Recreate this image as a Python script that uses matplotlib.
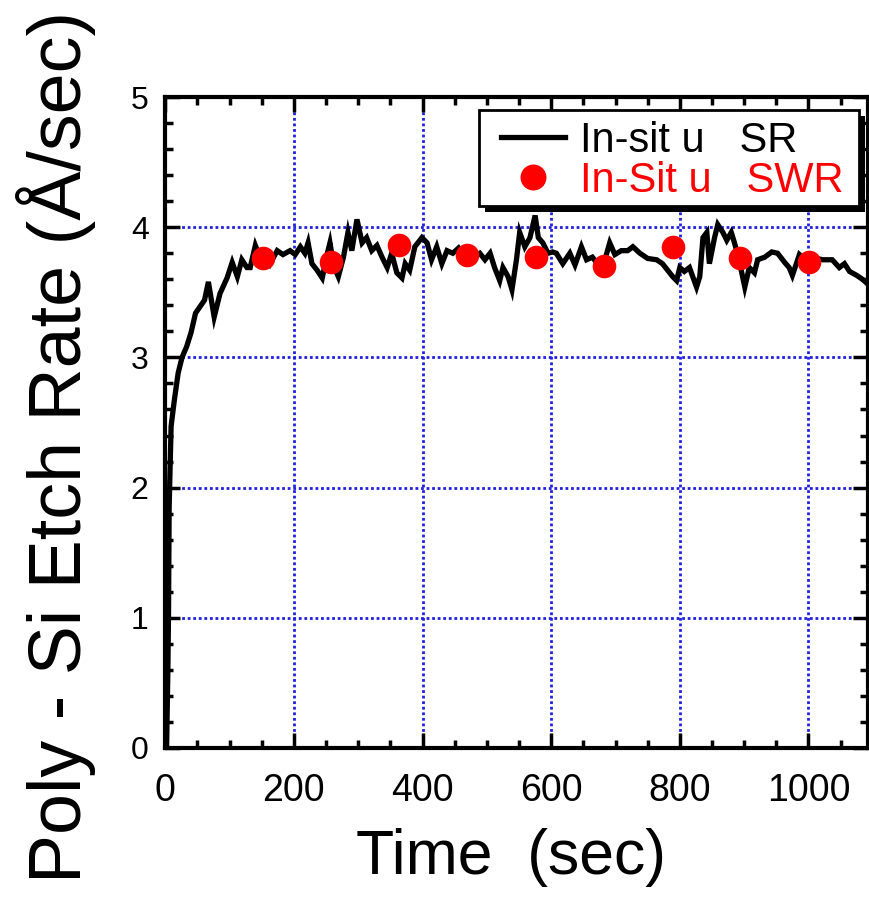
import matplotlib
matplotlib.use('Agg')
import matplotlib.pyplot as plt
import matplotlib.ticker as ticker
from matplotlib.patches import Rectangle
from matplotlib.transforms import IdentityTransform

plt.rcParams['font.family'] = ['Liberation Sans', 'DejaVu Sans']

# in-situ spectral reflectometry trace
time_sr = [0, 2, 4, 5, 6, 9, 14, 20, 26, 33, 40, 47, 54, 61, 67, 76, 85, 96, 104, 112,
           119, 127, 132, 140, 148, 155, 163, 174, 183, 194, 202, 210, 217, 222, 228,
           236, 244, 252, 256, 262, 269, 277, 284, 290, 298, 306, 313, 321, 329, 337,
           345, 352, 360, 368, 373, 380, 388, 399, 407, 414, 422, 430, 438, 447, 456,
           465, 474, 482, 489, 497, 505, 512, 520, 525, 533, 539, 546, 551, 559, 567,
           575, 580, 587, 595, 602, 608, 618, 629, 637, 647, 655, 664, 672, 680, 691,
           699, 709, 719, 727, 738, 750, 764, 773, 781, 789, 795, 800, 807, 815, 826,
           831, 836, 842, 846, 854, 859, 867, 873, 880, 885, 892, 901, 908, 916, 921,
           932, 943, 952, 963, 970, 975, 986, 995, 1005, 1013, 1022, 1037, 1048, 1056,
           1064, 1075, 1084, 1093]
rate_sr = [0.0, 0.0, 0.6, 1.04, 1.85, 2.47, 2.67, 2.88, 3.0, 3.08, 3.19, 3.34, 3.39, 3.44,
           3.58, 3.31, 3.49, 3.61, 3.73, 3.62, 3.75, 3.69, 3.69, 3.86, 3.76, 3.80, 3.72,
           3.82, 3.79, 3.82, 3.79, 3.85, 3.80, 3.88, 3.72, 3.67, 3.61, 3.80, 3.88, 3.70,
           3.62, 3.77, 3.96, 3.82, 4.06, 3.88, 3.92, 3.82, 3.86, 3.77, 3.69, 3.80, 3.65,
           3.61, 3.72, 3.67, 3.85, 3.92, 3.88, 3.75, 3.85, 3.72, 3.82, 3.80, 3.84, 3.78,
           3.82, 3.78, 3.80, 3.75, 3.80, 3.69, 3.59, 3.69, 3.62, 3.52, 3.75, 3.96, 3.85,
           3.92, 4.09, 3.92, 3.88, 3.80, 3.81, 3.80, 3.72, 3.80, 3.71, 3.85, 3.75, 3.77,
           3.72, 3.69, 3.88, 3.79, 3.82, 3.82, 3.85, 3.80, 3.76, 3.75, 3.72, 3.67, 3.62,
           3.59, 3.69, 3.66, 3.69, 3.54, 3.62, 3.92, 3.96, 3.72, 3.92, 4.02, 3.96, 3.90,
           3.96, 3.88, 3.75, 3.54, 3.69, 3.65, 3.75, 3.77, 3.81, 3.80, 3.73, 3.69, 3.63,
           3.79, 3.75, 3.74, 3.76, 3.75, 3.75, 3.69, 3.72, 3.66, 3.63, 3.60, 3.56]

# in-situ SWR points
time_swr = [152, 258, 363, 469, 576, 682, 790, 894, 1001]
rate_swr = [3.76, 3.73, 3.86, 3.79, 3.77, 3.70, 3.85, 3.76, 3.73]

fig = plt.figure(figsize=(8.7, 9.05), dpi=100)
ax = fig.add_axes([0.19, 0.1735, 0.808, 0.7193])

ax.plot(time_sr, rate_sr, color='black', linewidth=3.8, solid_joinstyle='miter',
        label='In-sit u   SR', zorder=3)
ax.plot(time_swr, rate_swr, 'o', color='#ff0000', markersize=17, markeredgewidth=0,
        label='In-Sit u   SWR', zorder=4)

ax.set_xlim(0, 1093)
ax.set_ylim(0, 5)
ax.xaxis.set_major_locator(ticker.MultipleLocator(200))
ax.xaxis.set_minor_locator(ticker.MultipleLocator(50))
ax.yaxis.set_major_locator(ticker.MultipleLocator(1))
ax.yaxis.set_minor_locator(ticker.MultipleLocator(0.2))

ax.grid(which='major', color='#2020e0', linestyle=(0, (1, 1)), linewidth=2.0, zorder=1)
ax.set_axisbelow(True)

ax.tick_params(which='both', direction='in', top=True, right=True, width=2.5)
ax.tick_params(which='major', length=11)
ax.tick_params(which='minor', length=6)
ax.tick_params(axis='x', labelsize=27, pad=18)
ax.tick_params(axis='y', labelsize=23, pad=12)
for s in ax.spines.values():
    s.set_linewidth(3.0)

ax.set_xlabel('Time  (sec)', fontsize=45)
ax.xaxis.set_label_coords(0.492, -0.123)
ax.set_ylabel('Poly - Si Etch Rate (Å/sec)', fontsize=53)
ax.yaxis.set_label_coords(-0.098, 0.462)

# legend entries without their own frame; the box is drawn below
leg = ax.legend(loc='upper left', bbox_to_anchor=(486 / 870, 1 - 106 / 905),
                bbox_transform=fig.transFigure, borderaxespad=0, fontsize=30,
                frameon=False, handlelength=1.55, handletextpad=0.35,
                labelspacing=0.0, borderpad=0.35, markerscale=1.1)
leg.set_zorder(6)
leg.get_texts()[1].set_color('#ff0000')

# legend box (pixels) with a solid drop shadow
box_x, box_y, box_w, box_h = 479, 905 - 206, 380, 96
ax.add_artist(Rectangle((box_x + 6, box_y - 6), box_w, box_h,
                        transform=IdentityTransform(), facecolor='black',
                        edgecolor='none', zorder=5.4, clip_on=False))
ax.add_artist(Rectangle((box_x, box_y), box_w, box_h,
                        transform=IdentityTransform(), facecolor='white',
                        edgecolor='black', linewidth=2.0, zorder=5.5, clip_on=False))

fig.savefig('out.png', dpi=100)
